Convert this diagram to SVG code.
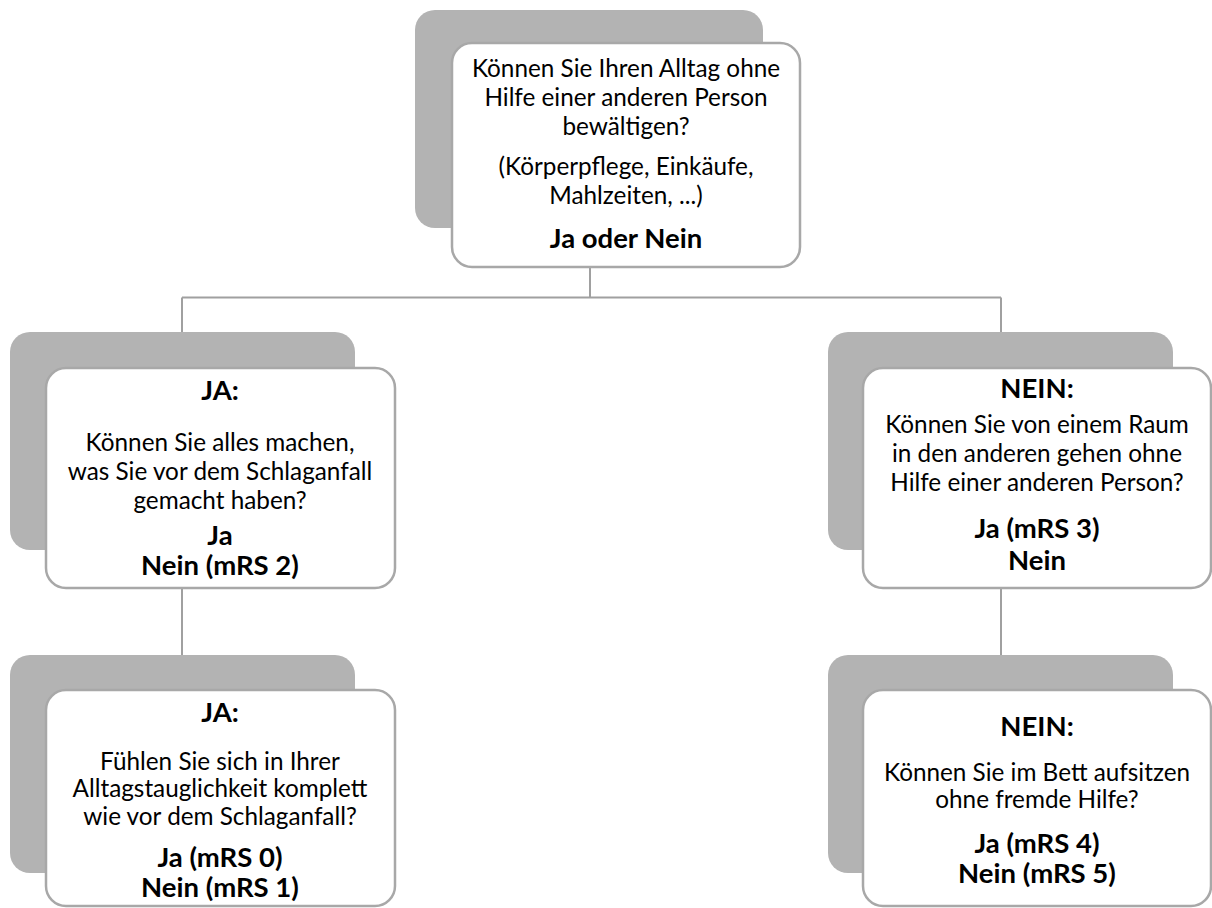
<svg xmlns="http://www.w3.org/2000/svg" width="1212" height="908" viewBox="0 0 1212 908">
  <style>
    .back { fill: #b3b3b3; }
    .front { fill: #ffffff; stroke: #a8a8a8; stroke-width: 2.5; }
    .conn { stroke: #a0a0a0; stroke-width: 2; fill: none; }
    .t { font-family: Lato, "Liberation Sans", sans-serif; font-size: 24.3px; fill: #000000; text-anchor: middle; }
    .b { font-family: Lato, "Liberation Sans", sans-serif; font-size: 27.5px; font-weight: bold; fill: #000000; text-anchor: middle; }
  </style>
  <rect width="1212" height="908" fill="#ffffff"/>
  <g id="connectors">
    <line class="conn" x1="590" y1="267" x2="590" y2="297.5"/>
    <line class="conn" x1="182" y1="297.5" x2="1001" y2="297.5"/>
    <line class="conn" x1="182" y1="297.5" x2="182" y2="332"/>
    <line class="conn" x1="1001" y1="297.5" x2="1001" y2="332"/>
    <line class="conn" x1="182" y1="588" x2="182" y2="655"/>
    <line class="conn" x1="1001" y1="588" x2="1001" y2="655"/>
  </g>
  <g id="node-top">
    <rect class="back" x="415" y="10" width="348" height="218" rx="20"/>
    <rect class="front" x="452" y="43" width="348" height="224" rx="20"/>
    <text class="t" x="626" y="77">Können Sie Ihren Alltag ohne</text>
    <text class="t" x="626" y="106">Hilfe einer anderen Person</text>
    <text class="t" x="626" y="135">bewältigen?</text>
    <text class="t" x="626" y="175">(Körperpflege, Einkäufe,</text>
    <text class="t" x="626" y="204">Mahlzeiten, ...)</text>
    <text class="b" x="626" y="248">Ja oder Nein</text>
  </g>
  <g id="node-ja-1">
    <rect class="back" x="10" y="332" width="345" height="218" rx="20"/>
    <rect class="front" x="46" y="368" width="349" height="220" rx="20"/>
    <text class="b" x="220" y="400">JA:</text>
    <text class="t" x="220" y="451">Können Sie alles machen,</text>
    <text class="t" x="220" y="480">was Sie vor dem Schlaganfall</text>
    <text class="t" x="220" y="509">gemacht haben?</text>
    <text class="b" x="220" y="545">Ja</text>
    <text class="b" x="220" y="575">Nein (mRS 2)</text>
  </g>
  <g id="node-ja-2">
    <rect class="back" x="10" y="655" width="345" height="218" rx="20"/>
    <rect class="front" x="46" y="690" width="349" height="216" rx="20"/>
    <text class="b" x="220" y="722">JA:</text>
    <text class="t" x="220" y="770">Fühlen Sie sich in Ihrer</text>
    <text class="t" x="220" y="797">Alltagstauglichkeit komplett</text>
    <text class="t" x="220" y="825">wie vor dem Schlaganfall?</text>
    <text class="b" x="220" y="867">Ja (mRS 0)</text>
    <text class="b" x="220" y="897">Nein (mRS 1)</text>
  </g>
  <g id="node-nein-1">
    <rect class="back" x="828" y="332" width="345" height="218" rx="20"/>
    <rect class="front" x="863" y="368" width="348" height="220" rx="20"/>
    <text class="b" x="1037" y="398">NEIN:</text>
    <text class="t" x="1037" y="433">Können Sie von einem Raum</text>
    <text class="t" x="1037" y="462">in den anderen gehen ohne</text>
    <text class="t" x="1037" y="491">Hilfe einer anderen Person?</text>
    <text class="b" x="1037" y="538">Ja (mRS 3)</text>
    <text class="b" x="1037" y="570">Nein</text>
  </g>
  <g id="node-nein-2">
    <rect class="back" x="828" y="655" width="345" height="218" rx="20"/>
    <rect class="front" x="863" y="690" width="348" height="216" rx="20"/>
    <text class="b" x="1037" y="736">NEIN:</text>
    <text class="t" x="1037" y="781">Können Sie im Bett aufsitzen</text>
    <text class="t" x="1037" y="808">ohne fremde Hilfe?</text>
    <text class="b" x="1037" y="853">Ja (mRS 4)</text>
    <text class="b" x="1037" y="883">Nein (mRS 5)</text>
  </g>
</svg>
